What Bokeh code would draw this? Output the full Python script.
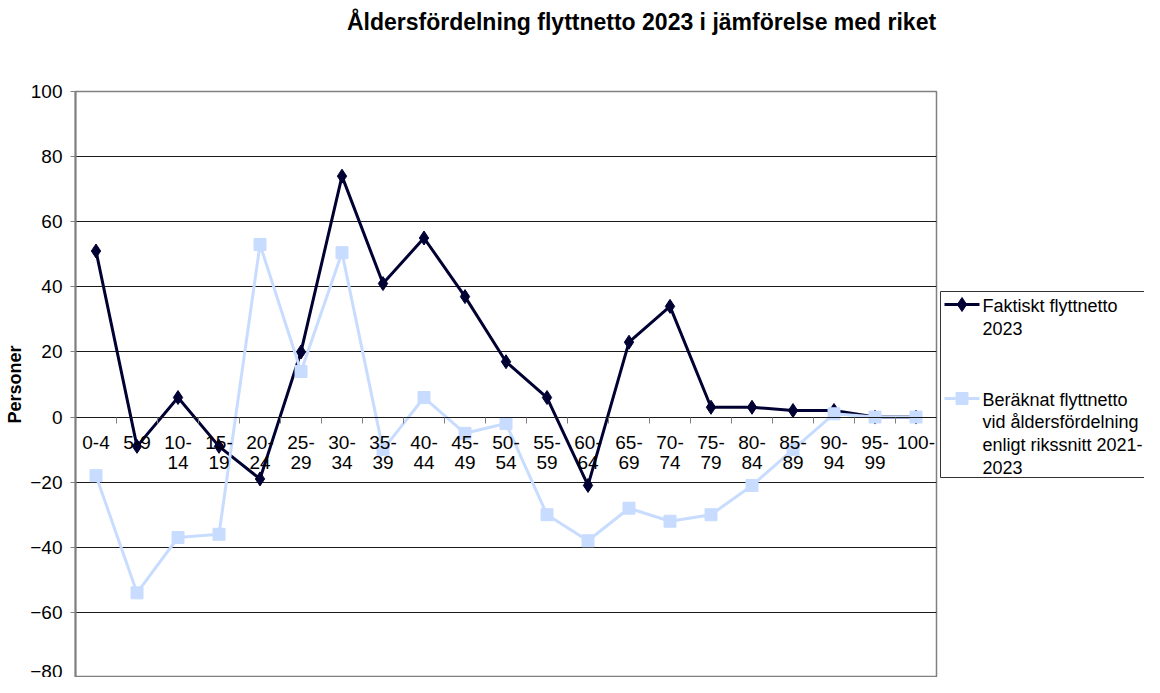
import numpy as np
from bokeh.plotting import figure
from bokeh.layouts import row, column
from bokeh.models import Range1d, FixedTicker
from bokeh.core.properties import value
from bokeh.embed import file_html
from bokeh.resources import INLINE

# ---- data ----
age_groups = ["0-4", "5-9", "10-14", "15-19", "20-24", "25-29", "30-34", "35-39",
              "40-44", "45-49", "50-54", "55-59", "60-64", "65-69", "70-74", "75-79",
              "80-84", "85-89", "90-94", "95-99", "100-"]
faktiskt = [51, -9, 6, -9, -19, 20, 74, 41, 55, 37, 17, 6, -21, 23, 34, 3, 3, 2, 2, 0, 0]
beraknat = [-18, -54, -37, -36, 53, 14, 50.5, -10, 6, -5, -2, -30, -38, -28, -32, -30,
            -21, -10, 1, 0, 0]
y_ticks = [-80, -60, -40, -20, 0, 20, 40, 60, 80, 100]
title_text = "Åldersfördelning flyttnetto 2023 i jämförelse med riket"
y_label = "Personer"
legend_faktiskt = ["Faktiskt flyttnetto", "2023"]
legend_beraknat = ["Beräknat flyttnetto", "vid åldersfördelning", "enligt rikssnitt 2021-", "2023"]

FONT = "Liberation Sans"
DARK = "#000033"
LIGHT = "#C8DCFF"

def wrap(lbl):
    if len(lbl) > 3 and "-" in lbl and not lbl.endswith("-"):
        a, b = lbl.split("-")
        return a + "-\n" + b
    return lbl

n = len(age_groups)
xs = np.arange(n) + 0.5

TOTAL_W, TOTAL_H = 1144, 677
TITLE_H = 50
FRAME_LEFT, FRAME_W = 75, 861
FRAME_TOP = 91                      # in whole-layout pixels
MAIN_W = FRAME_LEFT + FRAME_W + 2
MAIN_H = TOTAL_H - TITLE_H
LEG_W = TOTAL_W - MAIN_W

# ---- title strip ----
tf = figure(width=TOTAL_W, height=TITLE_H, output_backend="svg", toolbar_location=None,
            x_range=Range1d(0, TOTAL_W), y_range=Range1d(TITLE_H, 0),
            min_border=0, outline_line_color=None,
            background_fill_color="white", border_fill_color="white")
tf.axis.visible = False
tf.grid.visible = False
tf.text(x=[641], y=[21], text=[title_text], text_font=value(FONT), text_font_size="23px",
        text_font_style="bold", text_color="black", text_align="center",
        text_baseline="middle")

# ---- main chart ----
p = figure(width=MAIN_W, height=MAIN_H, output_backend="svg", toolbar_location=None,
           x_range=Range1d(0, n), y_range=Range1d(y_ticks[0], y_ticks[-1]),
           min_border_left=FRAME_LEFT, min_border_top=FRAME_TOP - TITLE_H,
           min_border_right=2, min_border_bottom=0,
           background_fill_color="white", border_fill_color="white")

p.outline_line_color = "#808080"
p.outline_line_width = 1.5

p.yaxis.ticker = FixedTicker(ticks=y_ticks)
p.yaxis.axis_label = y_label
p.yaxis.axis_label_text_font = FONT
p.yaxis.axis_label_text_font_size = "18px"
p.yaxis.axis_label_text_font_style = "bold"
p.yaxis.axis_label_text_color = "black"
p.yaxis.axis_label_standoff = 2
p.yaxis.major_label_text_font = FONT
p.yaxis.major_label_text_font_size = "19px"
p.yaxis.major_label_text_color = "black"
p.yaxis.major_label_standoff = 8
p.yaxis.axis_line_color = "#808080"
p.yaxis.axis_line_width = 2
p.yaxis.major_tick_line_color = "#808080"
p.yaxis.major_tick_out = 5
p.yaxis.major_tick_in = 0
p.yaxis.minor_tick_line_color = None

p.ygrid.ticker = FixedTicker(ticks=y_ticks)
p.ygrid.grid_line_color = "#1a1a1a"
p.ygrid.grid_line_width = 1
p.xgrid.grid_line_color = None

p.xaxis.fixed_location = 0
p.xaxis.ticker = FixedTicker(ticks=list(xs), minor_ticks=list(range(0, n + 1)))
p.xaxis.major_label_overrides = {float(x): wrap(l) for x, l in zip(xs, age_groups)}
p.xaxis.major_label_text_font = FONT
p.xaxis.major_label_text_font_size = "19px"
p.xaxis.major_label_text_color = "black"
p.xaxis.major_label_text_line_height = 0.95
p.xaxis.major_label_standoff = 9
p.xaxis.major_tick_out = 0
p.xaxis.major_tick_in = 0
p.xaxis.minor_tick_out = 6
p.xaxis.minor_tick_in = 0
p.xaxis.minor_tick_line_color = "#808080"
p.xaxis.axis_line_color = "#1a1a1a"
p.xaxis.axis_line_width = 1

p.line(xs, faktiskt, line_color=DARK, line_width=3)
p.scatter(xs, faktiskt, marker="diamond", size=14, fill_color=DARK, line_color=DARK)
p.line(xs, beraknat, line_color=LIGHT, line_width=3)
p.scatter(xs, beraknat, marker="square", size=12, fill_color=LIGHT, line_color=LIGHT)

# ---- legend panel: its frame is aligned with the main frame, so map y to layout pixels ----
lg = figure(width=LEG_W, height=MAIN_H, output_backend="svg", toolbar_location=None,
            x_range=Range1d(0, LEG_W), y_range=Range1d(TOTAL_H, FRAME_TOP),
            min_border=0, outline_line_color=None,
            background_fill_color="white", border_fill_color="white")
lg.axis.visible = False
lg.grid.visible = False

lg.quad(left=2, right=LEG_W + 20, top=291, bottom=477, fill_color=None,
        line_color="#333333", line_width=1)

item_y = [304, 398]
colors = [DARK, LIGHT]
markers = ["diamond", "square"]
sizes = [14, 12]
labels = [legend_faktiskt, legend_beraknat]
line_step = 22.5
for yy, c, m, s, lab in zip(item_y, colors, markers, sizes, labels):
    lg.line([6, 41], [yy, yy], line_color=c, line_width=3)
    lg.scatter([23.5], [yy], marker=m, size=s, fill_color=c, line_color=c)
    lg.text(x=[44] * len(lab), y=[yy + 1 + i * line_step for i in range(len(lab))], text=lab,
            text_font=value(FONT), text_font_size="18px", text_color="black",
            text_baseline="middle", text_align="left")

layout = column(tf, row(p, lg, spacing=0), spacing=0)
open("out.html", "w").write(file_html(layout, INLINE))
